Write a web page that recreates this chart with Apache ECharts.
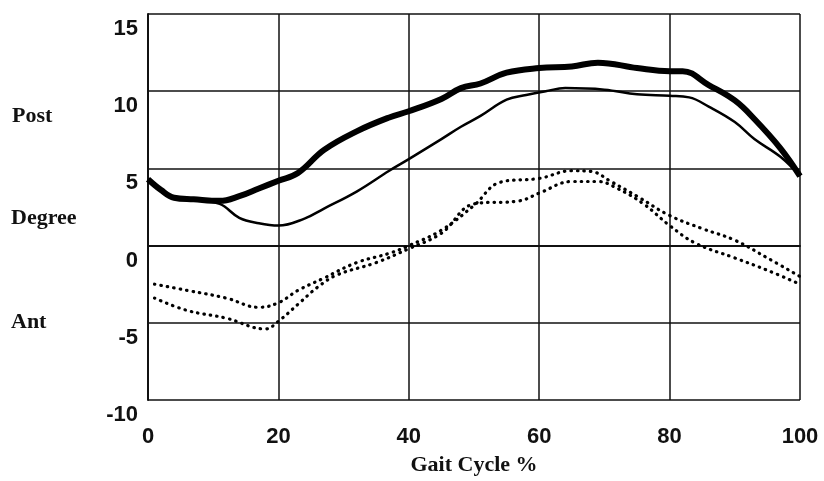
<!DOCTYPE html>
<html>
<head>
<meta charset="utf-8">
<script src="https://cdn.jsdelivr.net/npm/echarts@6/dist/echarts.min.js"></script>
<style>
	html, body { margin: 0; padding: 0; background: #fff; }
	#main { width: 824px; height: 481px; }
</style>
</head>
<body>
<div id="main"></div>
<script>
	// tick values
	var xTicks = [0, 20, 40, 60, 80, 100]
	var yTicks = [-10, -5, 0, 5, 10, 15]

	// thick solid curve
	var thickX = [0, 2, 4, 7, 11, 14, 17, 20, 23, 27, 32, 37, 40, 45, 48, 51, 55, 60, 65, 69, 75, 80, 82, 86, 90, 93, 97, 100]
	var thickY = [4.3, 3.6, 3.1, 3.0, 2.9, 3.2, 3.7, 4.2, 4.7, 6.2, 7.4, 8.3, 8.7, 9.5, 10.2, 10.5, 11.2, 11.5, 11.6, 11.85, 11.5, 11.3, 11.3, 10.4, 9.4, 8.2, 6.3, 4.5]

	// thin solid curve
	var thinX = [0, 2, 4, 7, 11, 14, 17, 20, 24, 27, 32, 37, 40, 45, 48, 51, 55, 58, 61, 64, 70, 75, 80, 83, 86, 90, 93, 97, 100]
	var thinY = [4.3, 3.6, 3.1, 3.0, 2.7, 1.8, 1.45, 1.3, 1.75, 2.4, 3.5, 4.85, 5.6, 6.9, 7.7, 8.4, 9.45, 9.75, 10.0, 10.2, 10.1, 9.8, 9.7, 9.6, 9.0, 8.0, 6.9, 5.75, 4.5]

	// dotted curve (upper at start)
	var dotAX = [1, 6, 12, 17, 20, 23, 27, 32, 37, 40, 45, 50, 54, 60, 65, 68, 71, 75, 80, 85, 90, 95, 100]
	var dotAY = [-2.5, -2.9, -3.4, -4.0, -3.7, -2.9, -2.1, -1.1, -0.5, 0.0, 1.0, 2.6, 4.1, 4.35, 4.85, 4.8, 4.15, 3.2, 1.95, 1.1, 0.35, -0.8, -2.0]

	// dotted curve (lower at start)
	var dotBX = [1, 6, 12, 18, 20, 23, 26, 29, 35, 40, 45, 50, 57, 60, 65, 69, 72, 76, 80, 84, 90, 95, 100]
	var dotBY = [-3.4, -4.2, -4.7, -5.4, -4.9, -3.8, -2.7, -1.9, -1.1, -0.2, 0.8, 2.7, 2.9, 3.4, 4.15, 4.15, 3.7, 2.7, 1.3, 0.15, -0.8, -1.6, -2.5]

	function pairs(xs, ys) {
		return xs.map(function(x, i) {
			return [x, ys[i]]
		})
	}

	var myChart = echarts.init(document.getElementById('main'))

	var tickFont = {
		fontFamily: 'Liberation Sans, Arial, sans-serif',
		fontSize: 22,
		fontWeight: 'bold',
		color: '#111'
	}
	var sideFont = {
		fontFamily: 'Liberation Serif, Times New Roman, serif',
		fontSize: 22,
		fontWeight: 'bold',
		fill: '#111'
	}

	var option = {
		backgroundColor: '#ffffff',
		animation: false,
		grid: {
			left: 148,
			right: 24,
			top: 14,
			bottom: 78
		},
		xAxis: {
			type: 'value',
			min: xTicks[0],
			max: xTicks[xTicks.length - 1],
			interval: 20,
			name: 'Gait Cycle %',
			nameLocation: 'middle',
			nameGap: 54,
			nameTextStyle: {
				fontFamily: 'Liberation Serif, Times New Roman, serif',
				fontSize: 22,
				fontWeight: 'bold',
				color: '#111'
			},
			axisLine: { lineStyle: { color: '#111', width: 2 } },
			axisTick: { show: false },
			axisLabel: Object.assign({ margin: 26 }, tickFont),
			splitLine: { show: true, lineStyle: { color: '#111', width: 1.5 } }
		},
		yAxis: {
			type: 'value',
			min: yTicks[0],
			max: yTicks[yTicks.length - 1],
			interval: 5,
			axisLine: { show: true, lineStyle: { color: '#111', width: 2 } },
			axisTick: { show: false },
			axisLabel: Object.assign({
				margin: 10,
				verticalAlign: 'top',
				lineHeight: 22,
				padding: [4, 0, 0, 0]
			}, tickFont),
			splitLine: { show: true, lineStyle: { color: '#111', width: 1.5 } }
		},
		graphic: [
			{ type: 'text', left: 12, top: 105, style: Object.assign({ text: 'Post' }, sideFont) },
			{ type: 'text', left: 11, top: 207, style: Object.assign({ text: 'Degree' }, sideFont) },
			{ type: 'text', left: 11, top: 311, style: Object.assign({ text: 'Ant' }, sideFont) }
		],
		series: [{
				name: 'thick',
				type: 'line',
				smooth: 0.4,
				showSymbol: false,
				data: pairs(thickX, thickY),
				lineStyle: { color: '#000', width: 6 }
			},
			{
				name: 'thin',
				type: 'line',
				smooth: 0.4,
				showSymbol: false,
				data: pairs(thinX, thinY),
				lineStyle: { color: '#000', width: 2.5 }
			},
			{
				name: 'dotA',
				type: 'line',
				smooth: 0.4,
				showSymbol: false,
				data: pairs(dotAX, dotAY),
				lineStyle: { color: '#000', width: 3.2, type: [0.5, 6], cap: 'round' }
			},
			{
				name: 'dotB',
				type: 'line',
				smooth: 0.4,
				showSymbol: false,
				data: pairs(dotBX, dotBY),
				lineStyle: { color: '#000', width: 3.2, type: [0.5, 6], cap: 'round' }
			}
		]
	}

	myChart.setOption(option)
</script>
</body>
</html>
